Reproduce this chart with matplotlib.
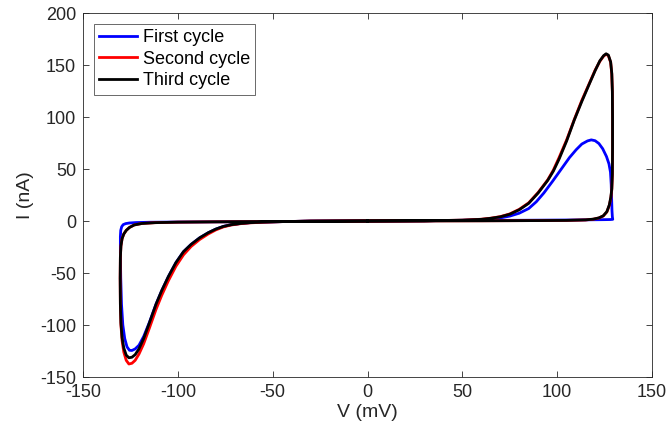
import matplotlib
matplotlib.use("Agg")
import matplotlib.pyplot as plt

plt.rcParams['font.family'] = ['Liberation Sans', 'DejaVu Sans']
plt.rcParams['axes.unicode_minus'] = False

labels = ["First cycle", "Second cycle", "Third cycle"]
colors = ["#0000ff", "#ff0000", "#000000"]

# (V in mV, I in nA), in sweep order
cycle1 = [(0, 0), (30, 0.2), (50, 0.7), (60, 1.3), (65, 2.0), (70, 3), (75, 4.7), (80, 7.5),
          (85, 12), (89, 18.5), (93, 27), (97.7, 38.5), (102, 49.5), (106.5, 61), (110, 68.5),
          (113, 74), (116, 77), (118, 78), (120, 77.2), (122, 74.5), (124, 69.5), (126, 62),
          (127.3, 55), (128.1, 47), (128.5, 35), (128.7, 22), (128.9, 10), (129.1, 4),
          (129.3, 1.6), (128, 1.4), (125, 1.3), (120, 1.2), (110, 1.0), (100, 0.9), (80, 0.7),
          (60, 0.5), (30, 0.3), (0, 0), (-30, -0.1), (-45, -0.6), (-55, -1.1), (-62, -1.6),
          (-67, -2.4), (-72, -3.6), (-76, -5.2), (-80, -7.8), (-84, -11.3), (-88.5, -16.2),
          (-93, -22.5), (-97, -29.5), (-101, -40), (-105, -53.5), (-108.5, -67), (-111.5, -80),
          (-115, -97.5), (-118, -111), (-120.5, -119.5), (-122.5, -123), (-124.2, -124.5),
          (-125.5, -124.3), (-126.8, -121), (-128, -113), (-129, -100), (-129.7, -80),
          (-130.1, -55), (-130.3, -30), (-130.3, -15), (-130.1, -9), (-129.6, -5.5),
          (-128.8, -3.5), (-127.5, -2.5), (-125.5, -1.9), (-122, -1.5), (-115, -1.2),
          (-100, -1.0), (-80, -0.8), (-50, -0.5), (-20, -0.2), (0, 0)]

cycle2 = [(0, 0), (30, 0.2), (50, 0.8), (60, 1.7), (65, 2.7), (70, 4.2), (75, 6.8), (80, 11.2),
          (85, 17.5), (90, 27.5), (95, 39.5), (98, 49), (101, 61), (105, 78), (109, 97.5),
          (113, 116), (117, 132.5), (120, 145), (122.5, 153.5), (124.5, 158.6), (125.8, 160.3),
          (127, 159), (128.2, 152.5), (128.8, 141), (129.1, 124), (129.2, 99), (129.2, 69),
          (129.1, 44), (128.8, 30), (128.3, 22), (127.5, 15), (126.2, 8.7), (124.3, 4.8),
          (122, 2.9), (119, 1.7), (115, 1.0), (105, 0.6), (90, 0.4), (60, 0.2), (30, 0.1),
          (0, 0), (-30, -0.1), (-45, -0.6), (-55, -1.2), (-62, -1.8), (-67, -2.6), (-72, -3.9),
          (-76, -5.7), (-80, -8.6), (-84, -12.5), (-88.5, -17.8), (-93, -24.5), (-97, -32.5),
          (-101, -43.5), (-105, -57.5), (-108.5, -71.5), (-111.5, -85), (-115, -103),
          (-118, -118), (-120.5, -128), (-122.5, -134), (-124.2, -136.8), (-125.8, -137.5),
          (-127.2, -134), (-128.5, -126), (-129.4, -115), (-130.0, -100), (-130.3, -80),
          (-130.4, -55), (-130.3, -35), (-130.0, -24), (-129.4, -17), (-128.5, -12.5),
          (-127.2, -9), (-125.5, -6.2), (-123, -3.8), (-119, -2.4), (-112, -1.6), (-100, -1.1),
          (-80, -0.8), (-50, -0.5), (-20, -0.2), (0, 0)]

cycle3 = [(0, 0), (30, 0.2), (50, 0.8), (60, 1.6), (65, 2.6), (70, 4), (75, 6.5), (80, 10.8),
          (85, 17), (90, 27), (95, 39), (98, 48), (101, 59.5), (105, 77), (109, 97), (113, 115),
          (117, 132), (120, 144.5), (122.5, 154), (124.5, 159), (125.8, 160.8), (127, 159.5),
          (128.2, 153), (128.8, 142), (129.1, 125), (129.2, 100), (129.2, 70), (129.1, 45),
          (128.8, 31), (128.3, 23), (127.5, 15.5), (126.2, 9), (124.3, 5), (122, 3), (119, 1.8),
          (115, 1.1), (105, 0.6), (90, 0.4), (60, 0.2), (30, 0.1), (0, 0), (-30, -0.1),
          (-45, -0.6), (-55, -1.1), (-62, -1.6), (-67, -2.4), (-72, -3.6), (-76, -5.2),
          (-80, -7.8), (-84, -11.3), (-88.5, -16.2), (-93, -22.5), (-97, -29.5), (-101, -40),
          (-105, -53.5), (-108.5, -67), (-111.5, -80), (-115, -98), (-118, -113),
          (-120.5, -123), (-122.5, -128.5), (-124.2, -131), (-125.8, -131.5), (-127.2, -129),
          (-128.5, -122), (-129.4, -112), (-130.0, -98), (-130.3, -80), (-130.4, -55),
          (-130.3, -35), (-130.0, -24), (-129.4, -17), (-128.5, -12.5), (-127.2, -9),
          (-125.5, -6.2), (-123, -3.8), (-119, -2.4), (-112, -1.6), (-100, -1.1), (-80, -0.8),
          (-50, -0.5), (-20, -0.2), (0, 0)]

xticks = [-150, -100, -50, 0, 50, 100, 150]
yticks = [-150, -100, -50, 0, 50, 100, 150, 200]

fig = plt.figure(figsize=(6.71, 4.32), dpi=100)
ax = fig.add_axes([83 / 671, 55 / 432, (652 - 83) / 671, (377 - 13) / 432])

for data, lab, col in zip([cycle1, cycle2, cycle3], labels, colors):
    v = [p[0] for p in data]
    i = [p[1] for p in data]
    ax.plot(v, i, color=col, lw=2.0, label=lab, solid_joinstyle='round')

ax.set_xlim(-150, 150)
ax.set_ylim(-150, 200)
ax.set_xticks(xticks)
ax.set_yticks(yticks)
ax.tick_params(direction='in', top=True, right=True, length=4, width=0.6,
               colors='#262626', labelsize=13, pad=5)
for s in ax.spines.values():
    s.set_linewidth(0.6)
    s.set_color('#262626')
ax.set_xlabel('V (mV)', fontsize=14, color='#262626', labelpad=2)
ax.set_ylabel('I (nA)', fontsize=14, color='#262626', labelpad=4)

leg = ax.legend(loc='upper left', fontsize=13, frameon=True, fancybox=False,
                edgecolor='#262626', handlelength=2.1, handletextpad=0.3,
                borderpad=0.3, labelspacing=0.25, borderaxespad=0.6)
leg.get_frame().set_linewidth(0.6)

fig.savefig('out.png', dpi=100)
